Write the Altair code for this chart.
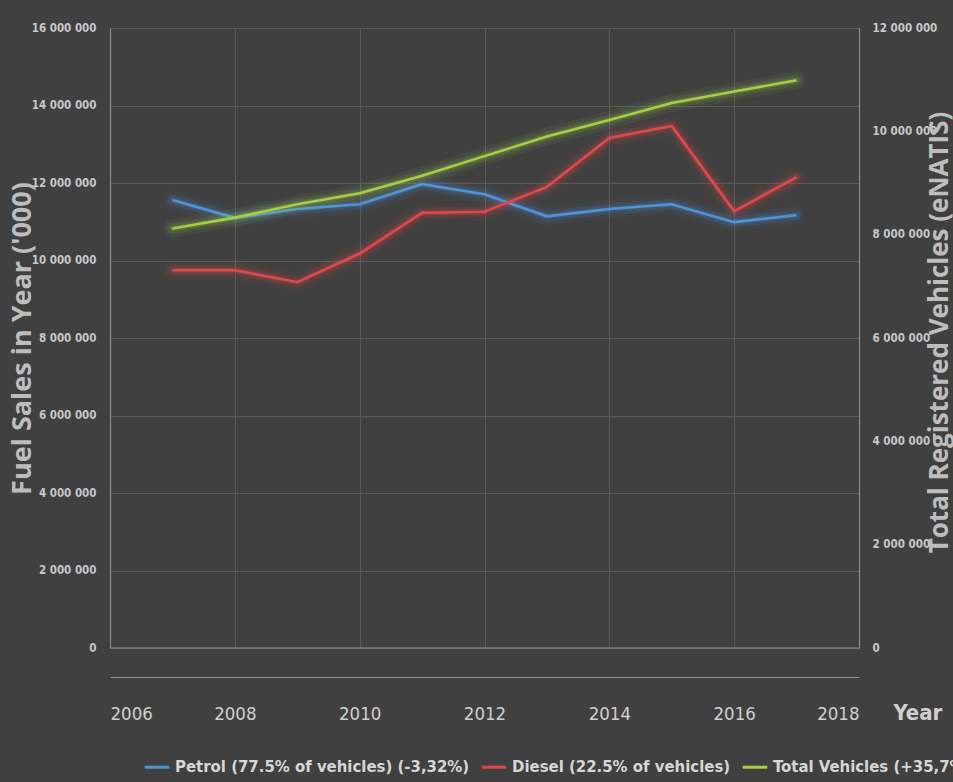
import altair as alt
import pandas as pd

years = [2007, 2008, 2009, 2010, 2011, 2012, 2013, 2014, 2015, 2016, 2017]
petrol = [11560000, 11100000, 11330000, 11450000, 11970000, 11710000, 11140000, 11330000, 11450000, 10990000, 11170000]
diesel = [9750000, 9750000, 9440000, 10180000, 11230000, 11260000, 11900000, 13160000, 13470000, 11270000, 12150000]
total = [8120000, 8330000, 8590000, 8800000, 9140000, 9520000, 9900000, 10220000, 10550000, 10770000, 10990000]

series_names = ["Petrol (77.5% of vehicles) (-3,32%)", "Diesel (22.5% of vehicles)", "Total Vehicles (+35,7%)"]
series_colors = ["#4f94d8", "#e0484a", "#a6cf45"]
x_ticks = [2006, 2008, 2010, 2012, 2014, 2016, 2018]
left_ticks = [0, 2000000, 4000000, 6000000, 8000000, 10000000, 12000000, 14000000, 16000000]
right_ticks = [0, 2000000, 4000000, 6000000, 8000000, 10000000, 12000000]

fuel = pd.DataFrame({
    "year": years * 2,
    "value": petrol + diesel,
    "series": [series_names[0]] * len(years) + [series_names[1]] * len(years),
})
veh = pd.DataFrame({"year": years, "value": total, "series": [series_names[2]] * len(years)})

NARROW = "DejaVu Sans Condensed, sans-serif"
TITLEF = "Open Sans, DejaVu Sans, sans-serif"
fmt_expr = "replace(replace(format(datum.value, ','), ',', ' '), ',', ' ')"

color = alt.Color("series:N", scale=alt.Scale(domain=series_names, range=series_colors),
                  legend=alt.Legend(title=None, orient="none", direction="horizontal",
                                    legendX=33, legendY=725, symbolType="stroke",
                                    symbolSize=600, symbolStrokeWidth=3, symbolOpacity=1,
                                    labelOffset=4, columnPadding=5, labelLimit=600,
                                    labelFont=NARROW, labelFontSize=16.6,
                                    labelFontWeight="bold", labelColor="#d6d6d6", padding=0))

xenc = alt.X("year:Q", scale=alt.Scale(domain=[2006, 2018], nice=False, zero=False),
             axis=alt.Axis(values=x_ticks, format="d", offset=29, domainColor="#8c8c8c",
                           domainWidth=1.2, ticks=False, grid=True, gridColor="#5a5a5a",
                           gridWidth=1, labelFont=NARROW, labelFontSize=18.5,
                           labelColor="#d0d0d0", labelPadding=36, labelBaseline="middle",
                           title="Year", titleFont=NARROW, titleFontSize=22,
                           titleFontWeight="bold", titleColor="#d0d0d0", titleX=783,
                           titleY=35, titleAlign="left", titleBaseline="middle"))

yleft_scale = alt.Scale(domain=[0, 16000000], nice=False)
yright_scale = alt.Scale(domain=[0, 12000000], nice=False)

yleft = alt.Y("value:Q", scale=yleft_scale,
              axis=alt.Axis(values=left_ticks, labelExpr=fmt_expr, domainColor="#8c8c8c",
                            domainWidth=1.2, ticks=False, grid=True, gridColor="#5a5a5a",
                            gridWidth=1, labelFont=NARROW, labelFontSize=11.5,
                            labelFontWeight="bold", labelColor="#c8c8c8", labelPadding=14,
                            title="Fuel Sales in Year ('000)", titleFont=TITLEF,
                            titleFontSize=27, titleFontWeight="bold", titleColor="#bdbdbd",
                            titleX=-88, titleY=310, titleAlign="center",
                            titleBaseline="middle", titleAngle=270))

yright = alt.Y("value:Q", scale=yright_scale,
               axis=alt.Axis(orient="right", values=right_ticks, labelExpr=fmt_expr,
                             domainColor="#8c8c8c", domainWidth=1.2, ticks=False, grid=False,
                             labelFont=NARROW, labelFontSize=11.5, labelFontWeight="bold",
                             labelColor="#c8c8c8", labelPadding=13,
                             title="Total Registered Vehicles (eNATIS)", titleFont=TITLEF,
                             titleFontSize=26, titleFontWeight="bold", titleColor="#bdbdbd",
                             titleX=80, titleY=304, titleAlign="center",
                             titleBaseline="middle", titleAngle=270))


def series_layer(df, yenc):
    base = alt.Chart(df).encode(x=xenc, y=yenc, color=color)
    return alt.layer(
        base.mark_line(strokeWidth=18, strokeOpacity=0.07, strokeCap="round", strokeJoin="round"),
        base.mark_line(strokeWidth=11, strokeOpacity=0.11, strokeCap="round", strokeJoin="round"),
        base.mark_line(strokeWidth=6, strokeOpacity=0.16, strokeCap="round", strokeJoin="round"),
        base.mark_line(strokeWidth=2.6),
    )


left = series_layer(fuel, yleft)
right = series_layer(veh, yright)

baseline = alt.Chart(pd.DataFrame({"k": [0]})).mark_rule(color="#8c8c8c", strokeWidth=1.2).encode(
    x=alt.value(0), x2=alt.value(749), y=alt.value(620))

chart = alt.layer(left, right, baseline).resolve_scale(y="independent").properties(
    width=749, height=620,
    autosize=alt.AutoSizeParams(type="none"),
    padding={"left": 110, "top": 28, "right": 94, "bottom": 134},
    background="#404040",
).configure_view(stroke=None)

chart.save("out.html", embed_options={"renderer": "svg", "actions": False})
